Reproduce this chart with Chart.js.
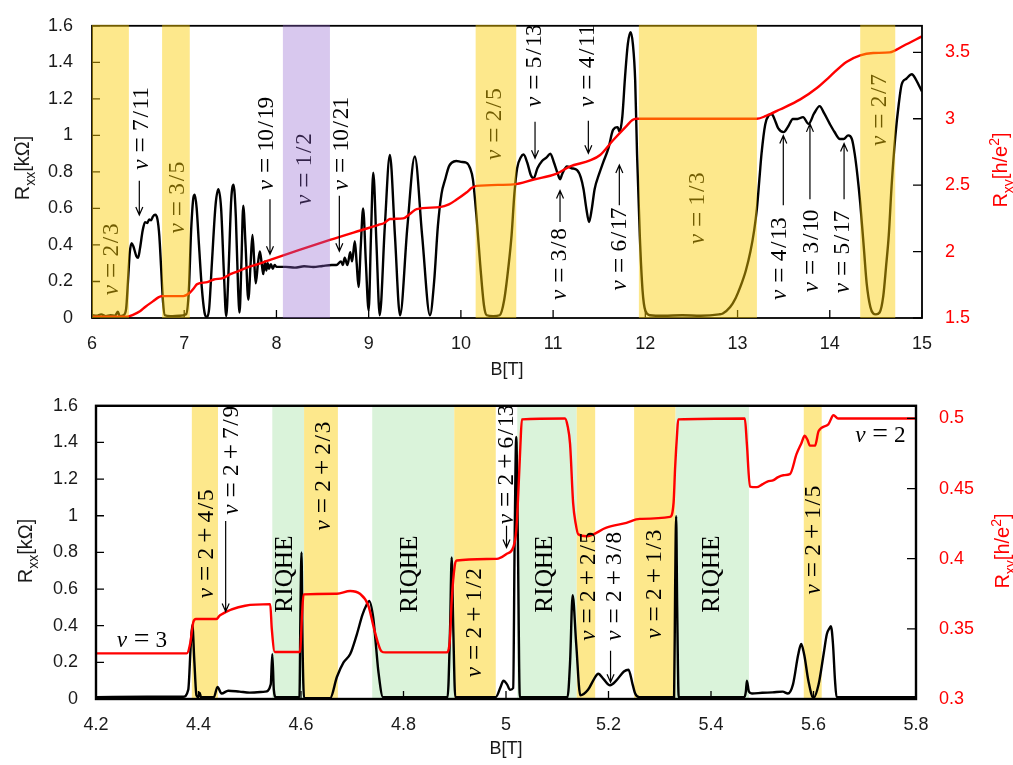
<!DOCTYPE html>
<html>
<head>
<meta charset="utf-8">
<script src="https://cdn.jsdelivr.net/npm/chart.js@4.4.0/dist/chart.umd.min.js"></script>
<style>
  body { margin: 0; background: #fff; overflow: hidden; }
  canvas { position: absolute; left: 0; }
</style>
</head>
<body>
<canvas id="topChart" width="1013" height="380" style="top:0"></canvas>
<canvas id="bottomChart" width="1013" height="385" style="top:380px"></canvas>
<script>
// ---------- top panel (6..15 T) ----------
const topTicksB = [6, 7, 8, 9, 10, 11, 12, 13, 14, 15];
const topTicksRxx = [0, 0.2, 0.4, 0.6, 0.8, 1, 1.2, 1.4, 1.6];
const topTicksRxy = [1.5, 2, 2.5, 3, 3.5];

const topRxxB = [
  6.00, 6.05, 6.10, 6.15, 6.20, 6.25, 6.28, 6.30, 6.34, 6.37,
  6.39, 6.41, 6.43, 6.45, 6.48, 6.50, 6.52, 6.55, 6.575, 6.60,
  6.62, 6.64, 6.66, 6.685, 6.71, 6.73, 6.75, 6.77, 6.79, 6.85,
  6.95, 7.02, 7.05, 7.075, 7.10, 7.115, 7.135, 7.16, 7.19, 7.22,
  7.245, 7.27, 7.30, 7.34, 7.37, 7.40, 7.43, 7.455, 7.48, 7.51,
  7.535, 7.56, 7.585, 7.60, 7.62, 7.64, 7.665, 7.695, 7.72, 7.74,
  7.76, 7.775, 7.80, 7.82, 7.84, 7.857, 7.875, 7.89, 7.905, 7.92,
  7.94, 7.96, 7.98, 8.00, 8.1, 8.2, 8.3, 8.4, 8.5, 8.6,
  8.65, 8.70, 8.72, 8.74, 8.77, 8.80, 8.82, 8.85, 8.87, 8.89,
  8.915, 8.94, 8.97, 9.00, 9.025, 9.05, 9.085, 9.12, 9.175, 9.23,
  9.285, 9.34, 9.42, 9.50, 9.58, 9.665, 9.71, 9.75, 9.79, 9.83,
  9.87, 9.90, 9.95, 10.00, 10.06, 10.10, 10.13, 10.17, 10.21, 10.25,
  10.28, 10.35, 10.42, 10.47, 10.52, 10.55, 10.58, 10.61, 10.65, 10.68,
  10.72, 10.76, 10.79, 10.83, 10.88, 10.93, 10.97, 11.01, 11.05, 11.075,
  11.10, 11.15, 11.20, 11.26, 11.30, 11.33, 11.36, 11.39, 11.42, 11.45,
  11.50, 11.54, 11.60, 11.65, 11.70, 11.72, 11.75, 11.78, 11.81, 11.84,
  11.865, 11.89, 11.91, 11.94, 11.97, 12.00, 12.05, 12.2, 12.4, 12.6,
  12.8, 12.84, 12.92, 12.98, 13.03, 13.09, 13.14, 13.18, 13.21, 13.24,
  13.26, 13.30, 13.34, 13.37, 13.40, 13.44, 13.50, 13.55, 13.60, 13.65,
  13.71, 13.77, 13.83, 13.89, 13.94, 14.00, 14.05, 14.11, 14.15, 14.20,
  14.24, 14.27, 14.30, 14.33, 14.37, 14.40, 14.44, 14.47, 14.50, 14.54,
  14.58, 14.61, 14.64, 14.67, 14.71, 14.75, 14.78, 14.83, 14.89, 14.93,
  14.97, 15.00
];
const topRxx = [
  0.015, 0.012, 0.02, 0.01, 0.015, 0.012, 0.035, 0.01, 0.015, 0.05,
  0.2, 0.36, 0.41, 0.39, 0.34, 0.33, 0.38, 0.48, 0.525, 0.52,
  0.54, 0.535, 0.555, 0.565, 0.54, 0.45, 0.27, 0.09, 0.015, 0.01,
  0.012, 0.02, 0.15, 0.48, 0.66, 0.675, 0.6, 0.4, 0.17, 0.03,
  0.005, 0.05, 0.3, 0.62, 0.705, 0.6, 0.25, 0.01, 0.25, 0.65,
  0.73, 0.55, 0.15, 0.03, 0.3, 0.615, 0.4, 0.1, 0.3, 0.455,
  0.3, 0.19, 0.3, 0.365, 0.3, 0.24, 0.31, 0.26, 0.3, 0.27,
  0.295, 0.27, 0.29, 0.28, 0.28, 0.276, 0.283, 0.279, 0.285, 0.29,
  0.29, 0.31, 0.29, 0.33, 0.29, 0.36, 0.31, 0.42, 0.3, 0.17,
  0.4, 0.6, 0.3, 0.04, 0.45, 0.795, 0.4, 0.015, 0.5, 0.893,
  0.45, 0.015, 0.5, 0.884, 0.45, 0.015, 0.2, 0.5, 0.68, 0.76,
  0.83, 0.85, 0.86, 0.855, 0.85, 0.82, 0.76, 0.55, 0.29, 0.07,
  0.015, 0.01, 0.015, 0.1, 0.3, 0.455, 0.68, 0.82, 0.88, 0.895,
  0.85, 0.78, 0.765, 0.82, 0.86, 0.88, 0.9, 0.85, 0.79, 0.76,
  0.79, 0.83, 0.82, 0.81, 0.77, 0.705, 0.6, 0.526, 0.6, 0.705,
  0.79, 0.848, 0.93, 1.03, 1.045, 1.02, 1.1, 1.32, 1.5, 1.565,
  1.5, 1.3, 0.9, 0.45, 0.15, 0.04, 0.015, 0.012, 0.015, 0.012,
  0.02, 0.025, 0.06, 0.11, 0.17, 0.26, 0.365, 0.48, 0.6, 0.78,
  0.9, 1.06, 1.11, 1.117, 1.09, 1.04, 1.018, 1.05, 1.09, 1.09,
  1.1, 1.063, 1.12, 1.16, 1.12, 1.063, 1.02, 0.98, 0.98, 1.0,
  0.98, 0.9, 0.78, 0.63, 0.38, 0.19, 0.06, 0.025, 0.02, 0.03,
  0.12, 0.28, 0.455, 0.72, 0.99, 1.18, 1.28, 1.31, 1.335, 1.31,
  1.27, 1.24
];

const topRxyB = [
  6.00, 6.38, 6.45, 6.52, 6.58, 6.66, 6.72, 6.76, 6.99, 7.06,
  7.10, 7.14, 7.25, 7.32, 7.42, 7.50, 7.56, 7.68, 7.80, 7.90,
  8.58, 8.98, 9.10, 9.17, 9.23, 9.375, 9.45, 9.52, 9.77, 9.87,
  9.95, 10.06, 10.12, 10.17, 10.57, 10.79, 11.04, 11.18, 11.40, 11.51,
  11.65, 11.80, 11.86, 11.90, 13.21, 13.31, 13.46, 13.68, 13.86, 14.00,
  14.18, 14.33, 14.47, 14.65, 14.80, 15.00
];
const topRxy = [
  1.51, 1.51, 1.525, 1.55, 1.585, 1.625, 1.655, 1.665, 1.665, 1.69,
  1.72, 1.755, 1.77, 1.79, 1.80, 1.83, 1.845, 1.88, 1.905, 1.93,
  2.088, 2.174, 2.20, 2.215, 2.245, 2.25, 2.285, 2.32, 2.335, 2.355,
  2.39, 2.445, 2.48, 2.495, 2.506, 2.543, 2.587, 2.64, 2.686, 2.727,
  2.838, 2.949, 2.99, 3.0, 3.0, 3.022, 3.07, 3.146, 3.232, 3.318,
  3.428, 3.478, 3.495, 3.50, 3.55, 3.62
];

// shaded field ranges [from, to, kind]
const topBands = [
  [6.0, 6.40, 'fqhe'], [6.76, 7.06, 'fqhe'], [8.07, 8.58, 'half'],
  [10.16, 10.60, 'fqhe'], [11.93, 13.21, 'fqhe'], [14.33, 14.71, 'fqhe']
];
// [text, B, Rxx at the start of the text]
const topLabels = [
  ['ν=2/3', 6.217, 0.123], ['ν=7/11', 6.539, 0.811], ['ν=3/5', 6.936, 0.462],
  ['ν=10/19', 7.894, 0.698], ['ν=1/2', 8.31, 0.617], ['ν=10/21', 8.708, 0.698],
  ['ν=2/5', 10.37, 0.864], ['ν=5/13', 10.804, 1.154], ['ν=4/11', 11.382, 1.154],
  ['ν=3/8', 11.075, 0.097], ['ν=6/17', 11.726, 0.15], ['ν=1/3', 12.574, 0.403],
  ['ν=4/13', 13.46, 0.097], ['ν=3/10', 13.804, 0.14], ['ν=5/17', 14.147, 0.134],
  ['ν=2/7', 14.545, 0.94]
];
// [B, Rxx tail, Rxx head]
const topArrows = [
  [6.513, 0.752, 0.564], [7.93, 0.65, 0.349], [8.682, 0.67, 0.365],
  [10.804, 1.074, 0.875], [11.382, 1.08, 0.902], [11.075, 0.526, 0.698],
  [11.718, 0.617, 0.838], [13.496, 0.617, 0.999], [13.785, 0.65, 1.063],
  [14.155, 0.65, 0.956]
];

// ---------- bottom panel (4.2..5.8 T) ----------
const botTicksB = [4.2, 4.4, 4.6, 4.8, 5, 5.2, 5.4, 5.6, 5.8];
const botTicksRxx = [0, 0.2, 0.4, 0.6, 0.8, 1, 1.2, 1.4, 1.6];
const botTicksRxy = [0.3, 0.35, 0.4, 0.45, 0.5];

const botRxxB = [
  4.20, 4.30, 4.37, 4.38, 4.385, 4.388, 4.392, 4.396, 4.400, 4.402,
  4.405, 4.430, 4.437, 4.445, 4.458, 4.480, 4.500, 4.530, 4.541, 4.544,
  4.547, 4.551, 4.597, 4.599, 4.601, 4.603, 4.606, 4.657, 4.670, 4.683,
  4.696, 4.709, 4.720, 4.728, 4.733, 4.741, 4.746, 4.751, 4.760, 4.886,
  4.891, 4.894, 4.897, 4.901, 4.980, 4.990, 4.995, 5.002, 5.008, 5.014,
  5.017, 5.020, 5.023, 5.027, 5.120, 5.125, 5.130, 5.137, 5.145, 5.160,
  5.172, 5.180, 5.190, 5.203, 5.215, 5.230, 5.239, 5.247, 5.252, 5.260,
  5.328, 5.330, 5.332, 5.334, 5.337, 5.465, 5.468, 5.470, 5.474, 5.480,
  5.500, 5.520, 5.540, 5.550, 5.560, 5.570, 5.576, 5.582, 5.590, 5.600,
  5.610, 5.620, 5.626, 5.632, 5.634, 5.638, 5.642, 5.645, 5.700, 5.800
];
const botRxx = [
  0.01, 0.012, 0.012, 0.05, 0.3, 0.405, 0.2, 0.02, 0.01, 0.035,
  0.01, 0.01, 0.066, 0.03, 0.045, 0.04, 0.035, 0.04, 0.08, 0.245,
  0.05, 0.01, 0.01, 0.5, 0.8, 0.3, 0.005, 0.005, 0.12, 0.2,
  0.245, 0.353, 0.46, 0.514, 0.535, 0.442, 0.3, 0.15, 0.01, 0.01,
  0.4, 0.773, 0.4, 0.01, 0.01, 0.07, 0.1, 0.08, 0.05, 0.06,
  0.9, 1.43, 0.9, 0.01, 0.01, 0.2, 0.567, 0.3, 0.02, 0.05,
  0.11, 0.138, 0.11, 0.075, 0.1, 0.15, 0.16, 0.08, 0.03, 0.01,
  0.01, 0.6, 0.997, 0.5, 0.01, 0.01, 0.04, 0.1, 0.04, 0.03,
  0.034, 0.036, 0.04, 0.03, 0.08, 0.24, 0.3, 0.24, 0.1, 0.005,
  0.08, 0.25, 0.353, 0.39, 0.397, 0.3, 0.1, 0.01, 0.01, 0.01
];

const botRxyB = [
  4.200, 4.377, 4.384, 4.390, 4.395, 4.435, 4.442, 4.540, 4.543, 4.549,
  4.598, 4.602, 4.605, 4.670, 4.696, 4.715, 4.731, 4.744, 4.757, 4.765,
  4.884, 4.890, 4.894, 4.900, 4.904, 4.982, 5.001, 5.014, 5.020, 5.024,
  5.028, 5.031, 5.115, 5.120, 5.125, 5.131, 5.136, 5.141, 5.157, 5.196,
  5.235, 5.261, 5.320, 5.327, 5.330, 5.334, 5.336, 5.466, 5.470, 5.476,
  5.489, 5.500, 5.510, 5.522, 5.530, 5.541, 5.554, 5.567, 5.576, 5.583,
  5.588, 5.593, 5.603, 5.610, 5.629, 5.639, 5.648, 5.800
];
const botRxy = [
  0.3325, 0.3325, 0.34, 0.355, 0.357, 0.357, 0.3597, 0.3676, 0.35, 0.3335,
  0.3335, 0.36, 0.3746, 0.375, 0.377, 0.375, 0.367, 0.348, 0.334, 0.3332,
  0.3332, 0.34, 0.37, 0.395, 0.3987, 0.3999, 0.4034, 0.408, 0.42, 0.4467,
  0.48, 0.4993, 0.50, 0.495, 0.4818, 0.4396, 0.425, 0.4174, 0.416, 0.4221,
  0.4256, 0.4284, 0.4298, 0.44, 0.465, 0.49, 0.4993, 0.50, 0.4818, 0.4514,
  0.451, 0.453, 0.455, 0.456, 0.458, 0.4595, 0.4603, 0.4747, 0.482, 0.4876,
  0.485, 0.4806, 0.4806, 0.491, 0.4958, 0.5023, 0.500, 0.500
];

const botBands = [
  [4.387, 4.438, 'fqhe'], [4.544, 4.606, 'riqhe'], [4.606, 4.672, 'fqhe'],
  [4.739, 4.899, 'riqhe'], [4.899, 4.980, 'fqhe'], [5.022, 5.138, 'riqhe'],
  [5.138, 5.174, 'fqhe'], [5.250, 5.331, 'fqhe'], [5.331, 5.474, 'riqhe'],
  [5.581, 5.616, 'fqhe']
];
const botLabels = [
  ['ν=3', 4.240, 0.285, 'h'], ['ν=2+4/5', 4.416, 0.548], ['ν=2+7/9', 4.465, 1.004],
  ['RIQHE', 4.569, 0.469], ['ν=2+2/3', 4.644, 0.918], ['RIQHE', 4.813, 0.469],
  ['ν=2+1/2', 4.940, 0.118], ['ν=2+6/13', 5.001, 0.952], ['RIQHE', 5.076, 0.469],
  ['ν=2+2/5', 5.161, 0.317], ['ν=2+3/8', 5.213, 0.317], ['ν=2+1/3', 5.291, 0.328],
  ['RIQHE', 5.402, 0.469], ['ν=2+1/5', 5.600, 0.569], ['ν=2', 5.681, 1.401, 'h']
];
const botArrows = [[4.453, 0.972, 0.478], [5.001, 0.945, 0.827], [5.204, 0.263, 0.091]];

// ---------- drawing helpers ----------
const pts = (xs, ys) => xs.map((x, i) => ({ x, y: ys[i] }));
const fmt = v => String(Math.round(v * 100) / 100);

// roughly TeX advance widths (em) so the labels space like the original
const EM = { 'ν': 0.5, '=': 0.778, '+': 0.778, '/': 0.5, R: 0.736, I: 0.361, Q: 0.778, H: 0.75, E: 0.681 };
const GAP = { '=': 0.278, '+': 0.222 };

function drawMath(ctx, text, x, y, size, vertical) {
  ctx.save();
  ctx.translate(x, y);
  if (vertical) ctx.rotate(-Math.PI / 2);
  ctx.textAlign = 'center';
  ctx.textBaseline = vertical ? 'middle' : 'alphabetic';
  ctx.fillStyle = '#000';
  const glyph = size * 1.08;
  let w = 0;
  for (const ch of text) {
    const g = GAP[ch] || 0;
    const cw = EM[ch] ?? 0.5;
    w += g;
    const isOp = ch === '=' || ch === '+';
    ctx.font = (ch === 'ν' ? 'italic ' : '') + (isOp ? glyph * 1.2 : glyph) + 'px "Liberation Serif"';
    ctx.fillText(ch, (w + cw / 2) * size, isOp && vertical ? 0.02 * size : 0);
    w += cw + g;
  }
  ctx.restore();
}

function drawArrow(ctx, x, y0, y1) {
  const d = Math.sign(y1 - y0);
  ctx.beginPath();
  ctx.moveTo(x, y0);
  ctx.lineTo(x, y1);
  ctx.moveTo(x - 3.5, y1 - d * 8);
  ctx.lineTo(x, y1);
  ctx.lineTo(x + 3.5, y1 - d * 8);
  ctx.stroke();
}

// parts: [text, 0 normal | 1 subscript | 2 superscript]
function drawRich(ctx, parts, x, y, size, color, vertical) {
  const fontOf = k => (k ? Math.round(size * 0.7) : size) + 'px "Liberation Sans"';
  ctx.save();
  let total = 0;
  parts.forEach(([t, k]) => { ctx.font = fontOf(k); total += ctx.measureText(t).width; });
  ctx.translate(x, y);
  if (vertical) ctx.rotate(-Math.PI / 2);
  ctx.fillStyle = color;
  ctx.textAlign = 'left';
  ctx.textBaseline = 'alphabetic';
  let cx = -total / 2;
  const base = size * 0.36;
  parts.forEach(([t, k]) => {
    ctx.font = fontOf(k);
    const dy = k === 1 ? size * 0.28 : k === 2 ? -size * 0.42 : 0;
    ctx.fillText(t, cx, base + dy);
    cx += ctx.measureText(t).width;
  });
  ctx.restore();
}

function decor(c) {
  const bands = chart => {
    const { ctx, chartArea: a, scales: { x } } = chart;
    ctx.save();
    c.bands.forEach(([b0, b1, kind]) => {
      const x0 = x.getPixelForValue(b0), x1 = x.getPixelForValue(b1);
      ctx.fillStyle = c.bandColors[kind];
      ctx.fillRect(x0, a.top - 1, x1 - x0, a.bottom - a.top + 1);
    });
    ctx.restore();
  };
  return {
    id: 'decor',
    beforeDatasetsDraw(chart) {
      if (!c.bandsOnTop) bands(chart);
    },
    afterDatasetsDraw(chart) {
      const { ctx, chartArea: a, scales: { x, y, y2 } } = chart;
      ctx.save();
      // inward tick marks
      ctx.strokeStyle = '#000';
      ctx.lineWidth = 1.3;
      ctx.beginPath();
      x.ticks.forEach(t => { const p = x.getPixelForValue(t.value); ctx.moveTo(p, a.bottom); ctx.lineTo(p, a.bottom - 8); });
      y.ticks.forEach(t => { const p = y.getPixelForValue(t.value); ctx.moveTo(a.left, p); ctx.lineTo(a.left + 8, p); });
      y2.ticks.forEach(t => { const p = y2.getPixelForValue(t.value); ctx.moveTo(a.right, p); ctx.lineTo(a.right - 9, p); });
      ctx.stroke();

      c.labels.forEach(([t, b, v, h]) => {
        const size = t === 'RIQHE' ? 23.5 : 21.5;
        drawMath(ctx, t, x.getPixelForValue(b), y.getPixelForValue(v), size, h !== 'h');
      });
      ctx.lineWidth = 1.2;
      c.arrows.forEach(([b, v0, v1]) => drawArrow(ctx, x.getPixelForValue(b), y.getPixelForValue(v0), y.getPixelForValue(v1)));

      ctx.lineWidth = c.frame;
      ctx.strokeRect(a.left, a.top, a.right - a.left, a.bottom - a.top);
      ctx.restore();

      if (c.bandsOnTop) bands(chart);

      drawRich(ctx, [['R', 0], ['xx', 1], ['[kΩ]', 0]], c.titles.left[0], c.titles.left[1], 20, '#1a1a1a', true);
      drawRich(ctx, [['R', 0], ['xy', 1], ['[h/e', 0], ['2', 2], [']', 0]], c.titles.right[0], c.titles.right[1], 20, '#ff0000', true);
      drawRich(ctx, [['B[T]', 0]], c.titles.x[0], c.titles.x[1], 18, '#1a1a1a', false);
    }
  };
}

function makeChart(id, c) {
  const tickFont = { family: 'Liberation Sans', size: 18 };
  return new Chart(document.getElementById(id), {
    type: 'line',
    data: {
      datasets: [
        { data: pts(c.rxyB, c.rxy), yAxisID: 'y2', borderColor: '#ff0000', borderWidth: 2.4,
          pointRadius: 0, cubicInterpolationMode: 'monotone' },
        { data: pts(c.rxxB, c.rxx), yAxisID: 'y', borderColor: '#000', borderWidth: 2.4,
          pointRadius: 0, cubicInterpolationMode: 'monotone' }
      ]
    },
    options: {
      responsive: false,
      animation: false,
      devicePixelRatio: 1,
      layout: { padding: { top: c.area.top, left: 0, right: 0, bottom: 0 } },
      plugins: { legend: { display: false }, tooltip: { enabled: false } },
      scales: {
        x: {
          type: 'linear', position: 'bottom', min: c.xMin, max: c.xMax,
          grid: { display: false }, border: { display: false },
          ticks: { font: tickFont, color: '#1a1a1a', padding: 7, maxRotation: 0, autoSkip: false, callback: fmt },
          afterBuildTicks: s => { s.ticks = c.xTicks.map(value => ({ value })); },
          afterFit: s => { s.height = c.area.xH; }
        },
        y: {
          type: 'linear', position: 'left', min: 0, max: 1.6,
          grid: { display: false }, border: { display: false },
          ticks: { font: tickFont, color: '#1a1a1a', padding: c.area.lPad, autoSkip: false, callback: fmt },
          afterBuildTicks: s => { s.ticks = c.yTicks.map(value => ({ value })); },
          afterFit: s => { s.width = c.area.left; }
        },
        y2: {
          type: 'linear', position: 'right', min: c.y2Min, max: c.y2Max,
          grid: { display: false }, border: { display: false },
          ticks: { font: tickFont, color: '#ff0000', padding: 15, autoSkip: false, callback: fmt },
          afterBuildTicks: s => { s.ticks = c.y2Ticks.map(value => ({ value })); },
          afterFit: s => { s.width = c.area.right; }
        }
      }
    },
    plugins: [decor(c)]
  });
}

makeChart('topChart', {
  rxxB: topRxxB, rxx: topRxx, rxyB: topRxyB, rxy: topRxy,
  xMin: 6, xMax: 15, y2Min: 1.5, y2Max: 3.7,
  xTicks: topTicksB, yTicks: topTicksRxx, y2Ticks: topTicksRxy,
  area: { top: 20, xH: 62, left: 92, right: 91, lPad: 11 },
  bands: topBands, bandsOnTop: true,
  bandColors: { fqhe: 'rgba(250,205,0,0.45)', half: 'rgba(143,97,206,0.35)' },
  labels: topLabels, arrows: topArrows, frame: 1.8,
  titles: { left: [22, 168], right: [1000, 170], x: [507, 369] }
});

makeChart('bottomChart', {
  rxxB: botRxxB, rxx: botRxx, rxyB: botRxyB, rxy: botRxy,
  xMin: 4.2, xMax: 5.8, y2Min: 0.3, y2Max: 0.509,
  xTicks: botTicksB, yTicks: botTicksRxx, y2Ticks: botTicksRxy,
  area: { top: 21, xH: 66, left: 96, right: 97, lPad: 10 },
  bands: botBands, bandsOnTop: false,
  bandColors: { fqhe: 'rgb(253,232,140)', riqhe: 'rgb(218,243,218)' },
  labels: botLabels, arrows: botArrows, frame: 2.4,
  titles: { left: [25, 171], right: [1002, 171], x: [506, 368] }
});
</script>
</body>
</html>
